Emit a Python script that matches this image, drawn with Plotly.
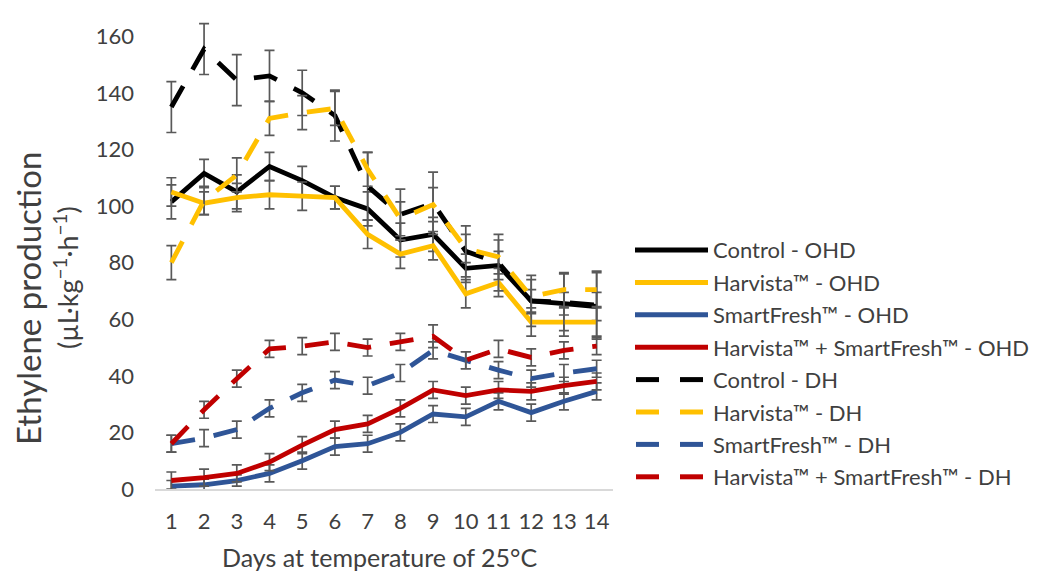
import plotly.graph_objects as go

# ---------------- data ----------------
days = list(range(1, 15))
tick_labels = [str(d) for d in days]

series_names = [
    "Control - OHD",
    "Harvista™ - OHD",
    "SmartFresh™ - OHD",
    "Harvista™ + SmartFresh™ - OHD",
    "Control - DH",
    "Harvista™ - DH",
    "SmartFresh™ - DH",
    "Harvista™ + SmartFresh™ - DH",
]

control_ohd = [101.5, 111.5, 105, 114, 109, 103, 99, 88, 90, 78, 79, 66.5, 65.5, 64.5]
harvista_ohd = [105, 101, 103, 104, 103.5, 103, 90, 83, 86, 69, 73, 59, 59, 59]
smartfresh_ohd = [1, 1.5, 3, 5.5, 10, 15, 16, 20, 26.5, 25.5, 31, 27, 31, 34.5]
hs_ohd = [3, 4, 5.5, 9.5, 15.5, 21, 23, 28.5, 35, 33, 35, 34.5, 36.5, 38]
control_dh = [135, 155.5, 144.5, 146, 140, 132, 107, 97, 101, 84, 80, 66.5, 66, 65]
harvista_dh = [80, 102, 111, 131, 133, 134.5, 113, 95.5, 100.5, 85, 82, 68, 70.5, 70.5]
smartfresh_dh = [16, 18, 21, 28.5, 34, 38.5, 36.5, 41, 49, 45.5, 42, 39, 41, 42.5]
hs_dh = [16, 28, 39, 49.5, 50.5, 52, 50, 52, 54, 45.5, 49.5, 46.5, 49, 50.5]

control_ohd_err = [6, 5, 6, 5, 5, 4, 6, 6, 6, 5, 5, 4, 4, 5]
harvista_ohd_err = [5, 4, 5, 5, 5, 4, 5, 5, 5, 5, 5, 5, 5, 5]
smartfresh_ohd_err = [2, 2, 2, 3, 3, 3, 3, 3, 3, 3, 3, 3, 3, 3]
hs_ohd_err = [3, 3, 3, 3, 3, 3, 3, 3, 3, 3, 3, 3, 3, 3]
control_dh_err = [9, 9, 9, 9, 8, 9, 12, 9, 11, 9, 10, 9, 10, 12]
harvista_dh_err = [6, 5, 6, 6, 6, 6, 6, 6, 6, 5, 6, 6, 6, 6]
smartfresh_dh_err = [3, 3, 3, 3, 3, 3, 3, 3, 3, 3, 3, 3, 3, 3]
hs_dh_err = [3, 3, 3, 3, 3, 3, 3, 3, 4, 3, 3, 3, 3, 3]

y_ticks = [0, 20, 40, 60, 80, 100, 120, 140, 160]

values = [control_ohd, harvista_ohd, smartfresh_ohd, hs_ohd,
          control_dh, harvista_dh, smartfresh_dh, hs_dh]
errors = [control_ohd_err, harvista_ohd_err, smartfresh_ohd_err, hs_ohd_err,
          control_dh_err, harvista_dh_err, smartfresh_dh_err, hs_dh_err]

# ---------------- style ----------------
colors = ["#000000", "#FFC000", "#2F5597", "#C00000"] * 2
dashes = ["solid"] * 4 + ["24px,19px"] * 4
FONT = "Lato"
TXT = "#404040"
ERR = "#595959"

OFF = 8                      # page body margin of the browser
W, H = 1040 - OFF, 571 - OFF
PLOT_L, PLOT_R, PLOT_T, PLOT_B = 155, 613, 8, 489   # plot area in page pixels
L = PLOT_L - OFF
R = W - (PLOT_R - OFF)
T = PLOT_T - OFF
B = H - (PLOT_B - OFF)
pw, ph = PLOT_R - PLOT_L, PLOT_B - PLOT_T


def px_x(px):
    return (px - PLOT_L) / pw


def px_y(py):
    return (PLOT_B - py) / ph


fig = go.Figure()
for name, v, e, c, d in zip(series_names, values, errors, colors, dashes):
    fig.add_trace(go.Scatter(
        x=days, y=v, name=name, mode="lines",
        line=dict(color=c, width=4.8, dash=d),
        error_y=dict(type="data", array=e, visible=True,
                     color=ERR, thickness=1.7, width=5),
        showlegend=False, cliponaxis=False,
    ))

# manual legend (long sample lines like the reference)
shapes = []
annotations = []
row0, row_gap = 250, 32.4
for i, (name, c, d) in enumerate(zip(series_names, colors, dashes)):
    yy = px_y(row0 + i * row_gap)
    if d == "solid":
        segs = [(635, 708)]
    else:
        segs = [(636, 659), (680, 703)]
    for a, b in segs:
        shapes.append(dict(type="line", xref="paper", yref="paper",
                           x0=px_x(a), x1=px_x(b), y0=yy, y1=yy,
                           line=dict(color=c, width=5)))
    annotations.append(dict(text=name, xref="paper", yref="paper",
                            x=px_x(711), y=yy, xanchor="left", yanchor="middle",
                            showarrow=False, font=dict(family=FONT, size=22, color=TXT)))

# axis titles
annotations.append(dict(text="Ethylene production", xref="paper", yref="paper",
                        x=px_x(28), y=px_y(299), textangle=-90,
                        xanchor="center", yanchor="middle", showarrow=False,
                        font=dict(family=FONT, size=33, color=TXT)))
annotations.append(dict(text="(µL·kg<sup>−1</sup>·h<sup>−1</sup>)", xref="paper", yref="paper",
                        x=px_x(66), y=px_y(278), textangle=-90,
                        xanchor="center", yanchor="middle", showarrow=False,
                        font=dict(family=FONT, size=27, color=TXT)))
annotations.append(dict(text="Days at temperature of 25°C", xref="paper", yref="paper",
                        x=px_x(379), y=px_y(557),
                        xanchor="center", yanchor="middle", showarrow=False,
                        font=dict(family=FONT, size=25, color=TXT)))

fig.update_layout(
    width=W, height=H,
    margin=dict(l=L, r=R, t=T, b=B),
    plot_bgcolor="white", paper_bgcolor="white",
    shapes=shapes, annotations=annotations,
    font=dict(family=FONT, color=TXT),
    xaxis=dict(range=[0.5, 14.5], tickmode="array", tickvals=days, ticktext=tick_labels,
               showgrid=False, zeroline=False, showline=True, linecolor="#D9D9D9",
               linewidth=1.5, ticks="", ticklabelstandoff=12,
               tickfont=dict(family=FONT, size=22, color=TXT)),
    yaxis=dict(range=[0, 170], tickmode="array", tickvals=y_ticks,
               showgrid=False, zeroline=False, showline=False, ticks="",
               ticklabelstandoff=20,
               tickfont=dict(family=FONT, size=22, color=TXT)),
)

fig.write_html("out.html")
